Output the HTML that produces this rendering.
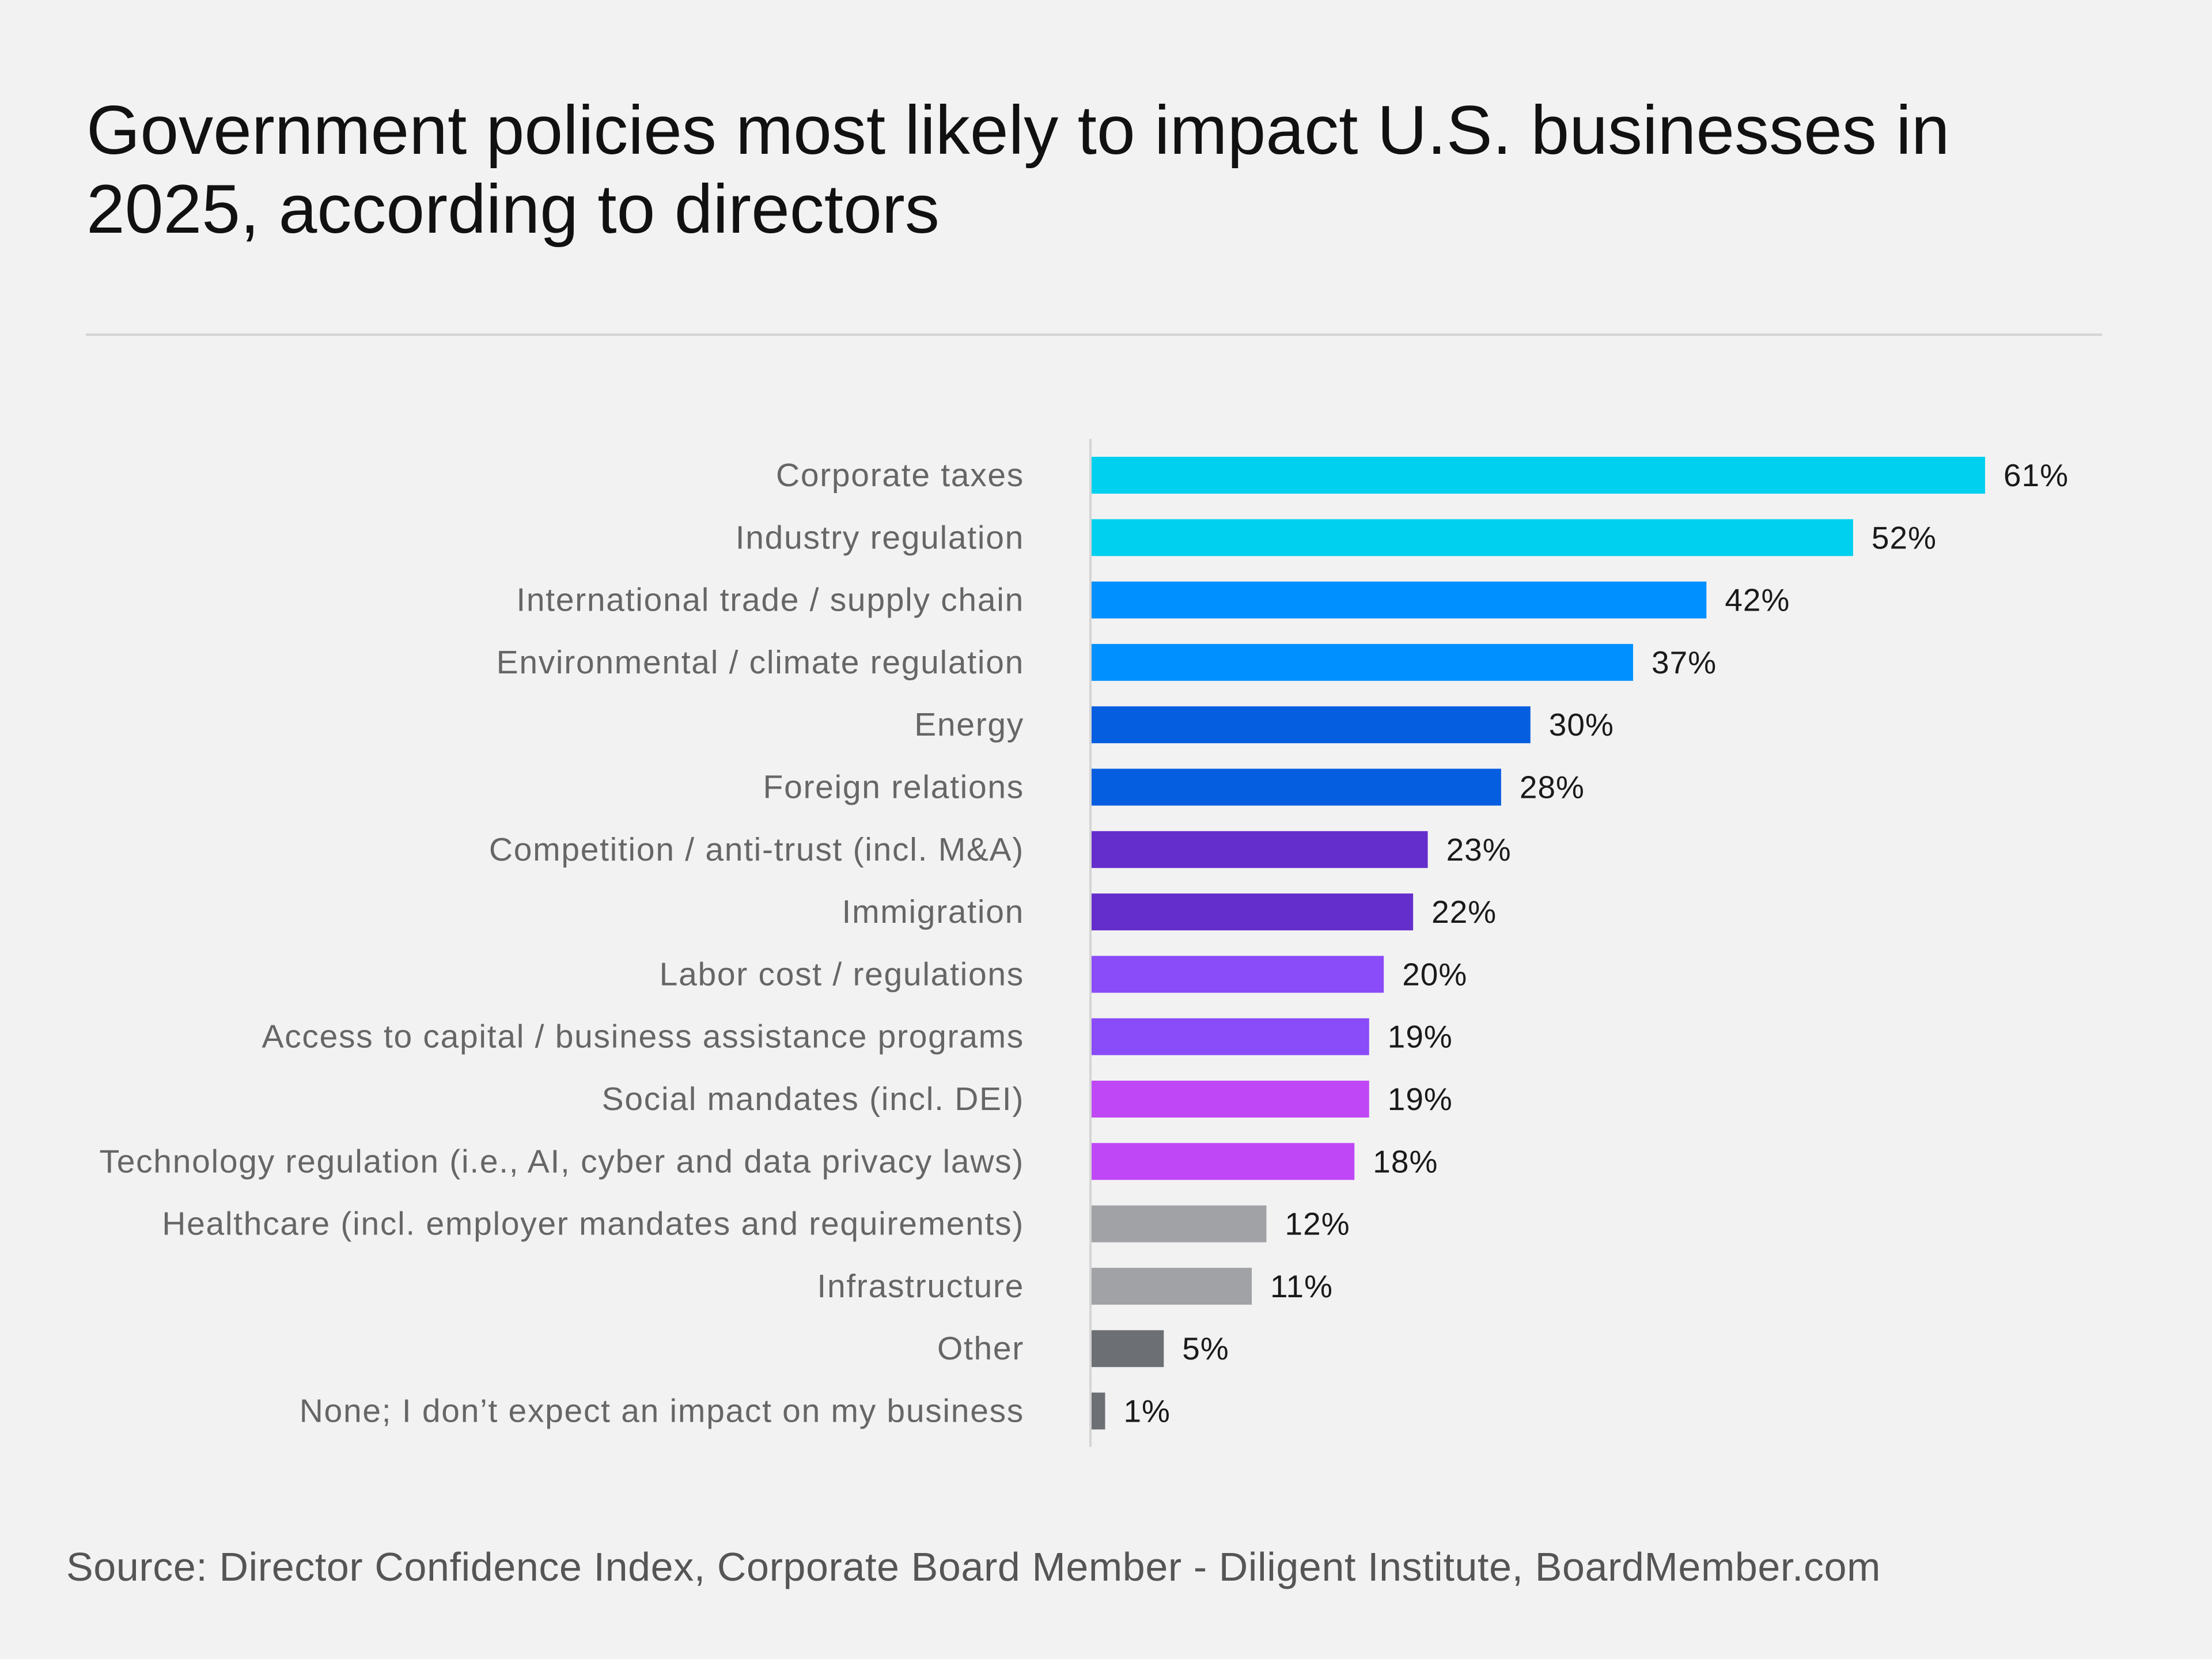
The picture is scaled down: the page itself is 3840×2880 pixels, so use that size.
<!DOCTYPE html>
<html><head><meta charset="utf-8"><style>
html,body{margin:0;padding:0;background:#f2f2f2;}
body{width:3840px;height:2880px;position:relative;overflow:hidden;font-family:"Liberation Sans","DejaVu Sans",sans-serif;}
#title{position:absolute;left:150px;top:158px;font-size:120px;line-height:137px;color:#111;letter-spacing:0px;margin:0;font-weight:normal;}
#sep{position:absolute;left:149px;top:579px;width:3500px;height:4px;background:#d4d4d4;}
#source{position:absolute;left:115px;top:2680px;font-size:70px;letter-spacing:0.6px;color:#555;}
</style></head><body>
<h1 id="title">Government policies most likely to impact U.S. businesses in<br>2025, according to directors</h1>
<div id="sep"></div>
<svg id="chart" width="3840" height="2880" style="position:absolute;left:0;top:0"></svg>
<div id="source">Source: Director Confidence Index, Corporate Board Member - Diligent Institute, BoardMember.com</div>
<script>
const categories=["Corporate taxes","Industry regulation","International trade / supply chain","Environmental / climate regulation","Energy","Foreign relations","Competition / anti-trust (incl. M&A)","Immigration","Labor cost / regulations","Access to capital / business assistance programs","Social mandates (incl. DEI)","Technology regulation (i.e., AI, cyber and data privacy laws)","Healthcare (incl. employer mandates and requirements)","Infrastructure","Other","None; I don’t expect an impact on my business"];
const values=[61,52,42,37,30,28,23,22,20,19,19,18,12,11,5,1];
const colors=["#00d0ef","#00d0ef","#0090ff","#0090ff","#055ee0","#055ee0","#642ecd","#642ecd","#8a4bf8","#8a4bf8","#bf47f5","#bf47f5","#a1a2a5","#a1a2a5","#6c6f74","#6c6f74"];
const NS="http://www.w3.org/2000/svg";
const svg=document.getElementById('chart');
const x0=1893, pxPer=25.46, y0=825, step=108.3, bh=64;
const xs=v=>x0+v*pxPer, ys=i=>y0+i*step;
const axis=document.createElementNS(NS,'line');


axis.setAttribute('x1',x0);axis.setAttribute('x2',x0);axis.setAttribute('y1',762);axis.setAttribute('y2',2512);
axis.setAttribute('stroke','#d4d4d4');axis.setAttribute('stroke-width','4');
svg.appendChild(axis);
values.forEach((v,i)=>{
 const r=document.createElementNS(NS,'rect');
 
 
 r.setAttribute('x',x0+2);r.setAttribute('y',ys(i)-bh/2);
 r.setAttribute('width',xs(v)-x0-2);r.setAttribute('height',bh);r.setAttribute('fill',colors[i]);
 svg.appendChild(r);
 const t=document.createElementNS(NS,'text');
 
 
 t.setAttribute('x',xs(v)+32);t.setAttribute('y',ys(i)+19);
 t.setAttribute('font-size','55');t.setAttribute('letter-spacing','1');t.setAttribute('fill','#1a1a1a');
 t.textContent=v+'%';svg.appendChild(t);
 const c=document.createElementNS(NS,'text');
 
 
 c.setAttribute('x',1778);c.setAttribute('y',ys(i)+19);c.setAttribute('text-anchor','end');
 c.setAttribute('font-size','57');c.setAttribute('letter-spacing','1.7');c.setAttribute('fill','#666');
 c.textContent=categories[i];svg.appendChild(c);
});
</script>
</body></html>
